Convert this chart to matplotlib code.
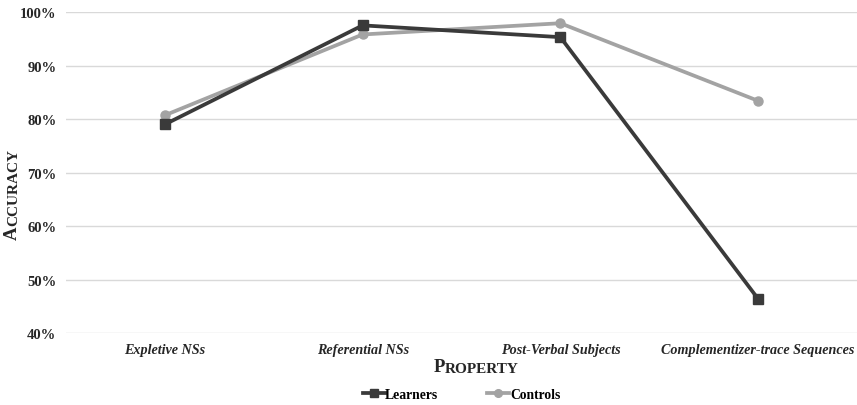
import matplotlib.pyplot as plt
from matplotlib.ticker import FuncFormatter

categories = ["Expletive NSs", "Referential NSs", "Post-Verbal Subjects",
              "Complementizer-trace Sequences"]
learners = [79.0, 97.5, 95.3, 46.4]
controls = [80.7, 95.8, 97.9, 83.4]
yticks = [40, 50, 60, 70, 80, 90, 100]

plt.rcParams['font.family'] = ['Liberation Serif', 'DejaVu Serif']

fig = plt.figure(figsize=(8.57, 4.06), dpi=100)
ax = fig.add_axes([0.077, 0.177, 0.923, 0.791])

x = list(range(len(categories)))
ax.plot(x, learners, color='#3a3a3a', lw=2.7, marker='s', ms=6.5,
        label='Learners', zorder=3)
ax.plot(x, controls, color='#a3a3a3', lw=2.7, marker='o', ms=6.5,
        label='Controls', zorder=2)

ax.set_xlim(-0.5, len(categories) - 0.5)
ax.set_ylim(40, 100)
ax.set_yticks(yticks)
ax.yaxis.set_major_formatter(FuncFormatter(lambda v, p: f"{v:.0f}%"))
ax.set_xticks(x)
ax.set_xticklabels(categories, fontstyle='italic', fontweight='bold',
                   fontsize=10.2, color='#262626')
for lab in ax.get_yticklabels():
    lab.set_fontweight('bold')
    lab.set_fontsize(10.5)
    lab.set_color('#262626')
ax.tick_params(length=0, pad=7)
ax.tick_params(axis='x', pad=7)
ax.grid(axis='y', color='#d9d9d9', lw=1)
ax.set_axisbelow(True)
for s in ax.spines.values():
    s.set_visible(False)

# small-caps axis labels
t1 = fig.text(0.519, 0.083, 'P', fontsize=13.5, fontweight='bold',
              color='#262626', ha='right', va='baseline')
ax.annotate('ROPERTY', xy=(1, 0), xycoords=t1, fontsize=11,
            fontweight='bold', color='#262626', ha='left', va='bottom')
t2 = fig.text(0.024, 0.41, 'A', fontsize=13.5, fontweight='bold',
              color='#262626', rotation=90, ha='right', va='bottom')
ax.annotate('CCURACY', xy=(1, 1), xycoords=t2, fontsize=11,
            fontweight='bold', color='#262626', rotation=90,
            ha='right', va='bottom')

ax.legend(loc='center', bbox_to_anchor=(0.5, -0.19), ncol=2,
          frameon=False, prop={'weight': 'bold', 'size': 9.8},
          handlelength=1.6, handletextpad=0.05, columnspacing=3.6,
          markerscale=0.85)

fig.savefig('out.png', dpi=100)
